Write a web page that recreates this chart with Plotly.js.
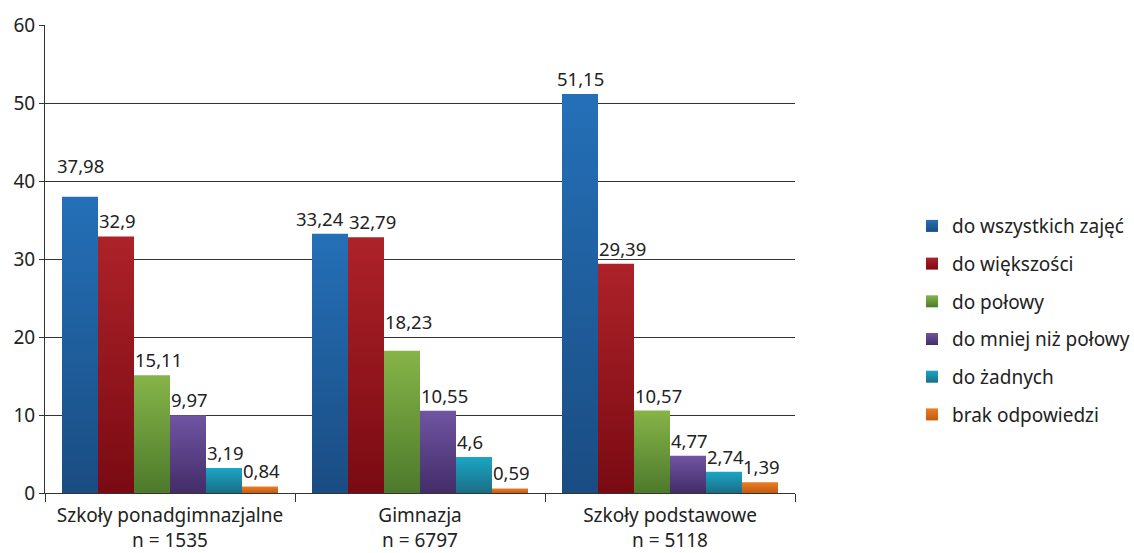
<!DOCTYPE html>
<html><head><meta charset="utf-8">
<script src="https://cdn.plot.ly/plotly-3.0.1.min.js"></script>
<style>body{margin:0;background:#fff}#chart{width:1134px;height:553px}</style>
</head><body><div id="chart"></div>
<script>
const categories = ["Szkoły ponadgimnazjalne<br>n = 1535", "Gimnazja<br>n = 6797", "Szkoły podstawowe<br>n = 5118"];
const seriesNames = ["do wszystkich zajęć", "do większości", "do połowy", "do mniej niż połowy", "do żadnych", "brak odpowiedzi"];
const wszystkich = [37.98, 33.24, 51.15];
const wiekszosci = [32.9, 32.79, 29.39];
const polowy = [15.11, 18.23, 10.57];
const mniejNizPolowy = [9.97, 10.55, 4.77];
const zadnych = [3.19, 4.6, 2.74];
const brak = [0.84, 0.59, 1.39];
const seriesValues = [wszystkich, wiekszosci, polowy, mniejNizPolowy, zadnych, brak];
const colorsTop = ["#2470b8", "#ad2229", "#86b448", "#6f55a3", "#1ba6c4", "#ee7d22"];
const colorsBottom = ["#1a4c82", "#7a0a12", "#4d7a2b", "#432c68", "#1a6e86", "#c25a12"];

// label placement tweaks (pixels) as in the original: [series, category] -> [dx, dy]
const labelNudge = {"0,0": [0, 16], "0,1": [-10, 0], "2,1": [0, 14]};

const W = 1134, H = 553;
const margin = {l: 45, r: 339, t: 25, b: 60, autoexpand: false};
const bargap = 0.136;
const plotW = W - margin.l - margin.r;
const catW = plotW / categories.length;
const barW = catW * (1 - bargap) / seriesNames.length;

const fmt = v => String(v).replace('.', ',');
const traces = seriesNames.map((name, i) => ({
  type: 'bar', name: name, x: categories, y: seriesValues[i],
  marker: {color: colorsTop[i], line: {width: 0}}, legendgroup: 'g' + i, hoverinfo: 'none'
}));

const annotations = [];
seriesValues.forEach((vals, i) => {
  vals.forEach((v, j) => {
    const n = labelNudge[i + ',' + j] || [0, 0];
    const isFirst = i === 0;
    annotations.push({
      x: categories[j], y: v, xref: 'x', yref: 'y', text: fmt(v), showarrow: false,
      xanchor: isFirst ? 'center' : 'left', yanchor: 'bottom',
      xshift: (isFirst ? (i + 0.5 - 3) * barW : (i - 3) * barW - 1) + n[0],
      yshift: 1 + n[1],
      font: {family: 'Noto Sans, sans-serif', size: 18.5, color: '#222'}
    });
  });
});

const layout = {
  width: W, height: H, margin: margin,
  paper_bgcolor: '#fff', plot_bgcolor: '#fff',
  barmode: 'group', bargap: bargap, bargroupgap: 0,
  font: {family: 'Noto Sans, sans-serif', size: 19, color: '#222'},
  xaxis: {showline: true, linecolor: '#333', linewidth: 1, ticks: 'outside', tickson: 'boundaries',
          ticklen: 8, tickcolor: '#333', showgrid: false, ticklabelstandoff: 5,
          tickfont: {size: 19, color: '#222'}},
  yaxis: {range: [0, 60], dtick: 10, showline: true, linecolor: '#333', linewidth: 1, ticks: 'outside',
          ticklen: 5, tickcolor: '#333', showgrid: true, gridcolor: '#333', gridwidth: 1,
          zeroline: false, tickfont: {size: 19, color: '#222'}, fixedrange: true},
  showlegend: true,
  legend: {x: 1.156, xanchor: 'left', y: 0.611, yanchor: 'top', traceorder: 'grouped', tracegroupgap: 10,
           font: {size: 19, color: '#222'}, itemwidth: 30, bgcolor: 'rgba(0,0,0,0)'},
  annotations: annotations
};

function applyGradients(gd) {
  const svg = gd.querySelector('svg.main-svg');
  let defs = svg.querySelector('defs');
  if (!defs) { defs = document.createElementNS('http://www.w3.org/2000/svg', 'defs'); svg.prepend(defs); }
  colorsTop.forEach((c, i) => {
    if (document.getElementById('grad' + i)) return;
    const g = document.createElementNS('http://www.w3.org/2000/svg', 'linearGradient');
    g.setAttribute('id', 'grad' + i); g.setAttribute('x1', '0'); g.setAttribute('y1', '0');
    g.setAttribute('x2', '0'); g.setAttribute('y2', '1');
    const s1 = document.createElementNS('http://www.w3.org/2000/svg', 'stop');
    s1.setAttribute('offset', '0'); s1.setAttribute('stop-color', c);
    const s2 = document.createElementNS('http://www.w3.org/2000/svg', 'stop');
    s2.setAttribute('offset', '1'); s2.setAttribute('stop-color', colorsBottom[i]);
    g.appendChild(s1); g.appendChild(s2); defs.appendChild(g);
  });
  gd.querySelectorAll('.barlayer .trace.bars').forEach((t, i) => {
    t.querySelectorAll('.point path').forEach(p => { p.style.fill = 'url(#grad' + i + ')'; });
  });
  gd.querySelectorAll('.legend .traces').forEach((t, i) => {
    t.querySelectorAll('.legendpoints path').forEach(p => { p.style.fill = 'url(#grad' + i + ')'; });
  });
}

Plotly.newPlot('chart', traces, layout, {displayModeBar: false, staticPlot: true}).then(gd => applyGradients(gd));
</script></body></html>
